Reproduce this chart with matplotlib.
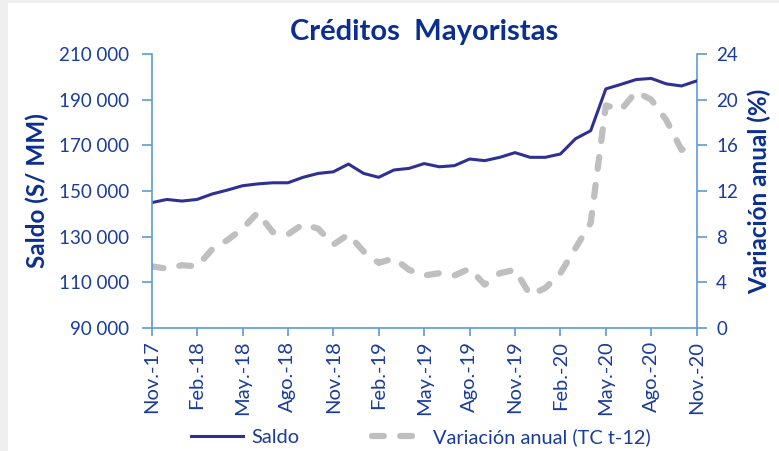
import matplotlib
matplotlib.use("Agg")
from matplotlib import pyplot as plt
from matplotlib.lines import Line2D
from matplotlib.patches import Rectangle
import numpy as np

# monthly data, Nov.-17 .. Nov.-20
months = ["Nov.-17", "Dic.-17", "Ene.-18", "Feb.-18", "Mar.-18", "Abr.-18", "May.-18",
          "Jun.-18", "Jul.-18", "Ago.-18", "Set.-18", "Oct.-18", "Nov.-18", "Dic.-18",
          "Ene.-19", "Feb.-19", "Mar.-19", "Abr.-19", "May.-19", "Jun.-19", "Jul.-19",
          "Ago.-19", "Set.-19", "Oct.-19", "Nov.-19", "Dic.-19", "Ene.-20", "Feb.-20",
          "Mar.-20", "Abr.-20", "May.-20", "Jun.-20", "Jul.-20", "Ago.-20", "Set.-20",
          "Oct.-20", "Nov.-20"]

saldo = [144900, 146300, 145600, 146300, 148700, 150400, 152300, 153100, 153600,
         153600, 156000, 157700, 158400, 161800, 157700, 156000, 159200, 159900,
         162000, 160600, 161100, 164000, 163300, 164750, 166800, 164750, 164750,
         166200, 172900, 176400, 194700, 196700, 198800, 199300, 196900, 196000,
         198200]

var_anual = [5.4, 5.2, 5.5, 5.4, 6.9, 7.7, 8.7, 10.1, 8.4, 8.2, 9.1, 8.7, 7.3, 8.2,
             6.7, 5.7, 6.1, 5.1, 4.6, 4.8, 4.6, 5.2, 3.8, 4.8, 5.1, 2.9, 3.5, 4.8,
             7.0, 9.2, 19.5, 19.1, 20.7, 20.0, 18.2, 15.6, 16.2]

left_ticks = [90000, 110000, 130000, 150000, 170000, 190000, 210000]
right_ticks = [0, 4, 8, 12, 16, 20, 24]

plt.rcParams['font.family'] = ['Lato', 'DejaVu Sans']

text_blue = '#1a3c9c'
title_blue = '#0b2f8f'
spine_blue = '#5b9bd5'
saldo_col = '#2e3192'
var_col = '#bfbfbf'

fig = plt.figure(figsize=(7.79, 4.51), dpi=100)
fig.patch.set_facecolor('#efefef')
# white panel, light grey strip on the top and left edges
fig.patches.append(Rectangle((8 / 779, 0), 1, 1 - 3 / 451, transform=fig.transFigure,
                             facecolor='white', edgecolor='none', zorder=-5))

ax = fig.add_axes([0.1947, 0.2727, 0.6996, 0.6076])
ax2 = ax.twinx()
ax.set_zorder(ax2.get_zorder() + 1)
ax.patch.set_visible(False)

x = np.arange(len(months))
ax2.plot(x, var_anual, color=var_col, lw=4.5, dash_capstyle='round',
         linestyle=(0, (1.9, 2.6)))
ax.plot(x, saldo, color=saldo_col, lw=2.2)

ax.set_xlim(0, len(months) - 1)
ax.set_ylim(90000, 210000)
ax2.set_ylim(0, 24)
ax.set_yticks(left_ticks)
ax.set_yticklabels([f"{v:,}".replace(",", " ") for v in left_ticks])
ax2.set_yticks(right_ticks)
ax.set_xticks(x[::3])
ax.set_xticklabels(months[::3], rotation=90)

for a in (ax, ax2):
    for s in a.spines.values():
        s.set_visible(False)
    a.tick_params(colors=spine_blue, labelcolor=text_blue, labelsize=13.5,
                  width=1.2, length=7)
ax.spines['left'].set_visible(True)
ax.spines['bottom'].set_visible(True)
ax2.spines['right'].set_visible(True)
for s in (ax.spines['left'], ax.spines['bottom'], ax2.spines['right']):
    s.set_color(spine_blue)
    s.set_linewidth(1.2)
ax.tick_params(axis='x', length=6, pad=3, labelsize=14.5)
ax.tick_params(axis='y', pad=9)
ax2.tick_params(axis='y', pad=7)

ax.set_ylabel("Saldo (S/ MM)", color=title_blue, fontsize=17.5, fontweight='bold',
              labelpad=7)
ax2.set_ylabel("Variación anual (%)", color=title_blue, fontsize=17.5, fontweight='bold',
               labelpad=7)
ax.set_title("Créditos  Mayoristas", color=title_blue, fontsize=21, fontweight='bold',
             pad=10)

handles = [Line2D([], [], color=saldo_col, lw=2.2),
           Line2D([], [], color=var_col, lw=4.5, dash_capstyle='round',
                  linestyle=(0, (1.9, 2.6)))]
fig.legend(handles, ["Saldo", "Variación anual (TC t-12)"], loc='center',
           bbox_to_anchor=(0.54, 0.03), ncol=2, frameon=False, fontsize=14.4,
           labelcolor=text_blue, handlelength=2.6, columnspacing=3.6, handletextpad=0.45)

fig.savefig("out.png", dpi=100)
